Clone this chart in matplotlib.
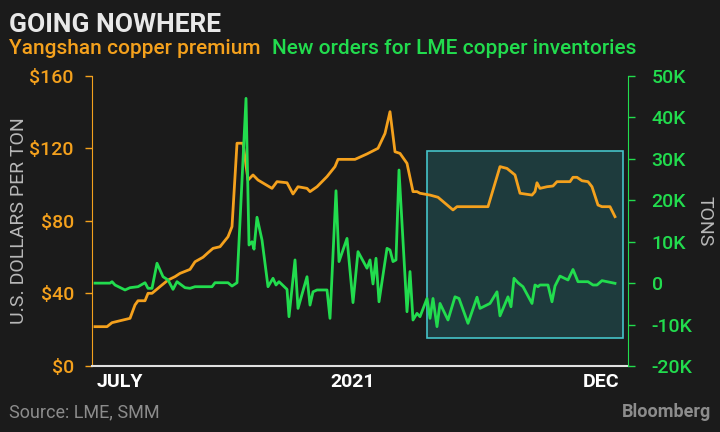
import matplotlib
matplotlib.use("Agg")
import matplotlib.pyplot as plt
from matplotlib.patches import Rectangle

plt.rcParams['font.family'] = ['Roboto', 'DejaVu Sans']

# days since start of July (x axis), premium in $/t
prem_days = [3, 15, 20, 38, 43, 46, 53, 56, 60, 68, 76, 83, 88, 98, 103, 111, 116,
             121, 128, 136, 140, 145, 151, 156, 161, 166, 180, 185, 195, 201, 206,
             215, 218, 225, 235, 243, 246, 263, 275, 286, 293, 298, 303, 308, 315,
             321, 325, 328, 338, 346, 361, 365, 396, 408, 415, 423, 428, 440, 443,
             445, 448, 455, 461, 465, 478, 481, 485, 490, 496, 500, 506, 510, 518, 523]
premium = [21.7, 21.7, 23.9, 26.3, 33.7, 36, 36, 40.1, 40.1, 43.8, 47.4, 49.3, 51.1,
           53.3, 57.5, 60, 62.5, 64.9, 65.8, 71.3, 76.9, 122.9, 122.9, 102.6, 105.4,
           102.6, 98, 101.7, 101.1, 94.9, 98.9, 98, 96.2, 98.9, 104.5, 110, 114, 114,
           117, 120.1, 128.3, 140.3, 118.2, 117.3, 111.8, 96.2, 96.2, 95.3, 94.3,
           93.1, 86.1, 87.9, 87.9, 110, 109, 105.4, 95.3, 94.3, 96.2, 101.1, 98,
           98.9, 99.3, 101.7, 101.7, 104.1, 104.1, 102.2, 101.7, 98.9, 88.8, 87.9,
           87.9, 82.4]

# new orders (cancelled warrants change), thousand tons
ord_days = [3, 18, 20, 23, 33, 38, 46, 53, 56, 60, 65, 71, 76, 81, 85, 93, 98, 103,
            120, 123, 136, 140, 145, 154, 157, 160, 162, 165, 170, 176, 181, 184, 187,
            195, 197, 203, 206, 215, 218, 221, 225, 235, 238, 244, 247, 255, 261, 266,
            275, 278, 281, 284, 287, 295, 298, 301, 304, 307, 315, 318, 321, 325, 328,
            335, 338, 341, 345, 348, 356, 363, 367, 376, 385, 388, 398, 405, 408, 416,
            419, 422, 426, 431, 440, 443, 446, 448, 456, 460, 463, 468, 476, 481, 486,
            496, 501, 505, 510, 523]
orders = [0, 0, 0.35, -0.45, -1.65, -1.1, -0.86, 0.1, -1.25, -1.25, 4.8, 1.55, 0.76,
          -1.5, 0.35, -1.1, -1.25, -0.86, -0.86, 0.1, 0.1, -0.7, 0.1, 44.6, 9.2, 10,
          8.2, 15.9, 10.4, -0.86, 1.17, -0.45, 0.35, -1.5, -8.1, 5.6, -6.1, 1.55, -5.3,
          -2.1, -1.65, -1.65, -8.5, 22.3, 5.2, 10.8, -4.7, 7.6, 3.6, 5.6, -0.2, 6.0,
          -4.5, 8.4, 8.0, 5.2, 5.6, 27.3, -6.9, 2.8, -8.9, -7.3, -8.1, -3.7, -8.5,
          -3.7, -10.5, -4.9, -8.9, -3.3, -3.7, -9.7, -3.4, -6.1, -4.9, -2.1, -7.9,
          -3.3, -5.7, 1.17, 0.1, -0.86, -4.9, -0.45, -0.86, -0.45, -0.45, -4.5, -0.7,
          1.7, 0.76, 3.3, 0.35, 0.35, -0.45, -0.45, 0.6, -0.05]

left_ticks = [0, 40, 80, 120, 160]
left_labels = ['$0', '$40', '$80', '$120', '$160']
right_ticks = [-20, -10, 0, 10, 20, 30, 40, 50]
right_labels = ['-20K', '-10K', '0', '10K', '20K', '30K', '40K', '50K']

BG = '#1b1b1b'
ORANGE = '#f4a11d'
GREEN = '#22dc4e'

fig = plt.figure(figsize=(7.2, 4.32), dpi=100, facecolor=BG)
ax = fig.add_axes([0.1278, 0.1528, 0.8722 - 0.1278, 0.8241 - 0.1528])
ax.set_facecolor(BG)
ax2 = ax.twinx()

# highlighted recent period
ax.add_patch(Rectangle((335, 15.4), 196, 103.2, facecolor='#1e3b3d',
                       edgecolor='#45c3c9', linewidth=1.2, zorder=0))

ax.plot(prem_days, premium, color=ORANGE, lw=2, solid_joinstyle='round')
ax2.plot(ord_days, orders, color=GREEN, lw=2, solid_joinstyle='round')

ax.set_xlim(0, 536)
ax.set_ylim(0, 160)
ax2.set_ylim(-20, 50)

for a in (ax, ax2):
    a.spines['top'].set_visible(False)
ax.spines['right'].set_visible(False)
ax2.spines['left'].set_visible(False)
ax.spines['left'].set_color(ORANGE)
ax2.spines['right'].set_color(GREEN)
ax.spines['bottom'].set_color('#e0e0e0')
ax.spines['bottom'].set_linewidth(1.5)
ax2.spines['bottom'].set_visible(False)

ax.set_yticks(left_ticks)
ax.set_yticklabels(left_labels, fontweight='medium')
ax.tick_params(axis='y', colors=ORANGE, labelsize=14, length=5, width=1, pad=8)
ax2.set_yticks(right_ticks)
ax2.set_yticklabels(right_labels, fontweight='medium')
ax2.tick_params(axis='y', colors=GREEN, labelsize=14, length=5, width=1, pad=12)

ax.set_xticks([])
for x, lab, ha in [(5, 'JULY', 'left'), (261, '2021', 'center'), (527, 'DEC', 'right')]:
    ax.text(x, -4, lab, ha=ha, va='top', color='white', fontsize=14, fontweight='bold')

fig.text(0.026, 0.49, 'U.S. DOLLARS PER TON', rotation=90, ha='center', va='center',
         color='#b8b8b8', fontsize=14)
fig.text(0.979, 0.488, 'TONS', rotation=270, ha='center', va='center',
         color='#b8b8b8', fontsize=14)

fig.text(0.013, 0.97, 'GOING NOWHERE', ha='left', va='top', color='#e8e8e8',
         fontsize=19, fontweight='bold')
fig.text(0.013, 0.91, 'Yangshan copper premium', ha='left', va='top',
         color=ORANGE, fontsize=15, fontweight='medium')
fig.text(0.378, 0.91, 'New orders for LME copper inventories', ha='left', va='top',
         color=GREEN, fontsize=15, fontweight='medium')

fig.text(0.013, 0.025, 'Source: LME, SMM', ha='left', va='bottom', color='#8c8c8c',
         fontsize=13)
fig.text(0.987, 0.025, 'Bloomberg', ha='right', va='bottom', color='#8c8c8c',
         fontsize=13, fontweight='bold')

fig.savefig('out.png', dpi=100, facecolor=BG)
